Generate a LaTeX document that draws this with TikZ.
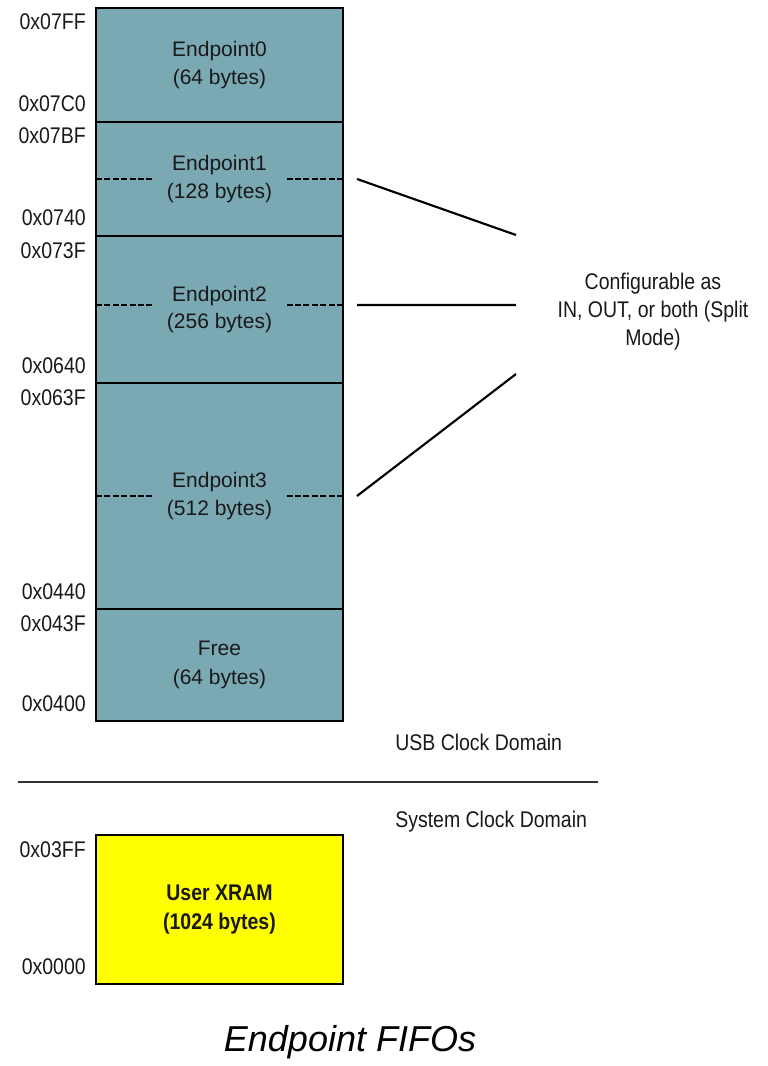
\documentclass[tikz,border=0pt]{standalone}
\usepackage{fontspec}
\setmainfont{Liberation Sans}
\newfontfamily\narrowfont[FakeStretch=0.86]{Liberation Sans}
\usepackage{xcolor}
\usetikzlibrary{positioning}

\definecolor{fifoteal}{RGB}{122,169,180}
\definecolor{xramyellow}{RGB}{255,255,0}

\tikzset{
	fifo/.style={draw, line width=2.2pt, fill=fifoteal, minimum width=185.25pt,
		inner sep=0pt, outer sep=0pt, align=center, text=black!90,
		font=\fontsize{15.75}{21.5}\selectfont},
	addr/.style={anchor=base east, inner sep=0pt, text=black!90,
		font=\narrowfont\fontsize{17}{20}\selectfont},
	note/.style={inner sep=0pt, align=center, text=black!90,
		font=\narrowfont\fontsize{17}{21}\selectfont},
	splitdash/.style={line width=1.5pt, dash pattern=on 4.5pt off 1.8pt},
	modeline/.style={line width=1.6pt}
}

\begin{document}
\begin{tikzpicture}[x=0.75pt, y=-0.75pt]
		\useasboundingbox (0,0) rectangle (767,1066);

		\node[fifo, minimum height=85.5pt] (ep0) at (219.5,65) {Endpoint0\\(64 bytes)};
		\node[fifo, minimum height=85.5pt, below=0pt of ep0] (ep1) {Endpoint1\\(128 bytes)};
		\node[fifo, minimum height=110.25pt, below=0pt of ep1] (ep2) {\raisebox{2.6pt}{\shortstack{Endpoint2\\[2pt](256 bytes)}}};
		\node[fifo, minimum height=169.5pt, below=0pt of ep2] (ep3) {Endpoint3\\(512 bytes)};
		\node[fifo, minimum height=84pt, below=0pt of ep3] (free) {Free\\(64 bytes)};
		\node[fifo, minimum height=111.75pt, below=85.5pt of free, fill=xramyellow,
			font=\narrowfont\bfseries\fontsize{17}{21.5}\selectfont] (xram) {User XRAM\\(1024 bytes)};

		% addresses
		\node[addr] at ([xshift=-7.5pt, yshift=-16.5pt]ep0.north west) {0x07FF};
		\node[addr] at ([xshift=-7.5pt, yshift=7.5pt]ep0.south west) {0x07C0};
		\node[addr] at ([xshift=-7.5pt, yshift=-16.5pt]ep1.north west) {0x07BF};
		\node[addr] at ([xshift=-7.5pt, yshift=7.5pt]ep1.south west) {0x0740};
		\node[addr] at ([xshift=-7.5pt, yshift=-16.5pt]ep2.north west) {0x073F};
		\node[addr] at ([xshift=-7.5pt, yshift=7.5pt]ep2.south west) {0x0640};
		\node[addr] at ([xshift=-7.5pt, yshift=-16.5pt]ep3.north west) {0x063F};
		\node[addr] at ([xshift=-7.5pt, yshift=7.5pt]ep3.south west) {0x0440};
		\node[addr] at ([xshift=-7.5pt, yshift=-16.5pt]free.north west) {0x043F};
		\node[addr] at ([xshift=-7.5pt, yshift=7.5pt]free.south west) {0x0400};
		\node[addr] at ([xshift=-7.5pt, yshift=-16.5pt]xram.north west) {0x03FF};
		\node[addr] at ([xshift=-7.5pt, yshift=7.5pt]xram.south west) {0x0000};

		% split marks
		\draw[splitdash] (ep1.west) -- ([xshift=43.5pt]ep1.west);
		\draw[splitdash] (ep1.east) -- ([xshift=-42pt]ep1.east);
		\draw[splitdash] ([yshift=3.4pt]ep2.west) -- ([xshift=43.5pt, yshift=3.4pt]ep2.west);
		\draw[splitdash] ([yshift=3.4pt]ep2.east) -- ([xshift=-42pt, yshift=3.4pt]ep2.east);
		\draw[splitdash, line width=0.9pt] (ep3.west) -- ([xshift=43.5pt]ep3.west);
		\draw[splitdash, line width=0.9pt] (ep3.east) -- ([xshift=-42pt]ep3.east);

		\node[note] (cfg) at (653,312) {Configurable as\\IN, OUT, or both (Split\\Mode)};
		\coordinate (m1) at (516,235);
		\coordinate (m2) at (516,305);
		\coordinate (m3) at (516,374);
		\draw[modeline] ([xshift=10.5pt]ep1.east) -- (m1);
		\draw[modeline] ([xshift=10.5pt, yshift=3.4pt]ep2.east) -- (m2);
		\draw[modeline] ([xshift=10.5pt]ep3.east) -- (m3);

		% clock domains
		\draw[line width=1.1pt, black!80] (18,782) -- (598,782);
		\node[note, anchor=west] (usb) at (395,742) {USB Clock Domain};
		\node[note, anchor=west] (sys) at (395,822) {System Clock Domain};

		\node[inner sep=0pt, font=\itshape\fontsize{27}{30}\selectfont] (title) at (350,1042) {Endpoint FIFOs};
	\end{tikzpicture}
\end{document}
